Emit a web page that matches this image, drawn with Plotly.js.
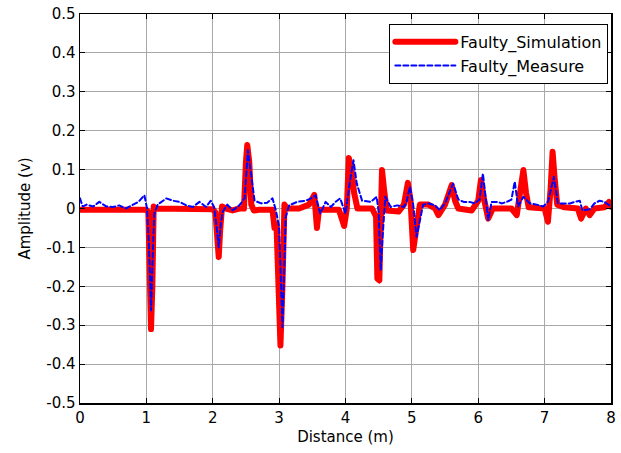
<!DOCTYPE html>
<html>
<head>
<meta charset="utf-8">
<script src="https://cdn.plot.ly/plotly-3.0.1.min.js"></script>
<style>html,body{margin:0;padding:0;background:#fff;}#chart{width:621px;height:453px;}
path.js-line{stroke-linejoin:round !important;stroke-linecap:round;}</style>
</head>
<body>
<div id="chart"></div>
<script>
var simX = [0,0.5,1.0,1.03,1.05,1.07,1.09,1.11,1.14,1.5,2.0,2.04,2.06,2.09,2.11,2.14,2.2,2.3,2.4,2.47,2.5,2.52,2.55,2.58,2.62,2.7,2.9,2.93,2.96,2.99,3.02,3.05,3.08,3.12,3.3,3.45,3.53,3.57,3.6,3.9,3.98,4.02,4.05,4.09,4.13,4.18,4.4,4.46,4.48,4.51,4.53,4.55,4.58,4.62,4.8,4.88,4.94,4.98,5.02,5.06,5.12,5.25,5.35,5.4,5.5,5.6,5.65,5.7,5.9,6.0,6.04,6.08,6.15,6.22,6.5,6.58,6.64,6.68,6.72,6.76,7.0,7.05,7.09,7.12,7.15,7.19,7.3,7.5,7.55,7.62,7.68,7.75,7.9,7.97,8.0];
var simY = [-0.003,-0.003,-0.003,-0.01,-0.2,-0.31,-0.2,0.005,0.0,-0.002,-0.002,-0.01,-0.08,-0.125,-0.06,0.005,0.0,-0.005,0.0,0.0,0.12,0.163,0.12,0.01,-0.005,-0.003,-0.003,-0.05,-0.04,-0.2,-0.352,-0.2,0.01,0.0,0.0,0.01,0.035,-0.05,-0.003,-0.003,-0.045,0.0,0.13,0.1,0.04,0.0,0.0,-0.02,-0.18,-0.185,0.05,0.099,0.05,-0.005,-0.008,0.01,0.066,0.02,-0.107,-0.06,0.01,0.01,0.0,-0.017,0.01,0.06,0.02,0.0,-0.005,0.02,0.073,0.03,-0.026,0.0,0.0,-0.017,0.04,0.099,0.04,0.003,0.0,-0.034,0.05,0.146,0.08,0.01,0.003,0.0,-0.026,0.0,-0.017,0.0,0.003,0.017,0.005];
var measX = [0.0,0.04,0.1,0.2,0.29,0.4,0.5,0.59,0.69,0.79,0.88,0.97,1.01,1.04,1.07,1.1,1.12,1.17,1.3,1.4,1.5,1.6,1.7,1.8,1.9,1.97,2.02,2.06,2.09,2.12,2.15,2.22,2.3,2.4,2.48,2.53,2.58,2.63,2.73,2.82,2.9,2.95,3.0,3.05,3.1,3.15,3.27,3.4,3.48,3.55,3.62,3.7,3.78,3.85,3.92,4.0,4.07,4.12,4.17,4.25,4.38,4.47,4.5,4.53,4.56,4.6,4.68,4.78,4.88,4.92,4.97,5.02,5.07,5.12,5.17,5.25,5.35,5.42,5.5,5.62,5.7,5.78,5.87,5.95,6.02,6.07,6.15,6.2,6.3,6.35,6.43,6.5,6.55,6.6,6.68,6.78,6.88,6.98,7.05,7.14,7.2,7.3,7.38,7.45,7.53,7.57,7.68,7.75,7.83,7.9,8.0];
var measY = [0.026,0.005,0.01,0.005,0.017,0.005,0.004,0.008,0.0,0.01,0.017,0.034,0.0,-0.1,-0.262,-0.1,-0.013,0.01,0.026,0.02,0.017,0.008,0.004,0.017,0.004,0.02,0.004,-0.05,-0.1,-0.04,-0.008,0.01,-0.005,0.008,0.026,0.15,0.08,0.02,0.013,0.015,0.026,-0.004,-0.047,-0.305,-0.022,0.008,0.017,0.02,0.026,0.034,-0.013,0.017,0.004,0.017,0.026,-0.013,0.073,0.124,0.064,0.02,0.017,0.03,-0.01,-0.159,-0.07,0.03,0.004,0.008,0.004,0.017,0.056,0.01,-0.073,-0.03,0.01,0.013,0.008,-0.004,0.013,0.064,0.023,0.017,0.017,0.013,0.023,0.09,-0.03,0.017,0.017,0.013,0.017,0.023,0.069,0.005,0.03,0.013,0.01,0.005,0.017,0.081,0.013,0.013,0.013,0.017,0.02,-0.005,-0.002,0.013,0.02,0.017,0.005];
var xTicks = [0,1,2,3,4,5,6,7,8];
var xTickText = ["0","1","2","3","4","5","6","7","8"];
var yTicks = [0.5,0.4,0.3,0.2,0.1,0,-0.1,-0.2,-0.3,-0.4,-0.5];
var yTickText = ["0.5","0.4","0.3","0.2","0.1","0","-0.1","-0.2","-0.3","-0.4","-0.5"];

var FONT = 'DejaVu Sans, Verdana, sans-serif';
var traces = [
  {x: simX, y: simY, type: 'scatter', mode: 'lines', name: 'Faulty_Simulation',
   line: {color: '#ff0000', width: 6}},
  {x: measX, y: measY, type: 'scatter', mode: 'lines', name: 'Faulty_Measure',
   line: {color: '#0000ff', width: 2, dash: '5px,3px'}}
];
var axisCommon = {
  showline: true, linecolor: '#000', linewidth: 1.5, mirror: 'ticks',
  ticks: 'inside', ticklen: 5, tickcolor: '#000',
  showgrid: true, gridcolor: '#a8a8a8', gridwidth: 1, zeroline: false,
  tickfont: {family: FONT, size: 15, color: '#000'}
};
var layout = {
  width: 621, height: 453,
  margin: {l: 80, r: 10, t: 14, b: 50},
  paper_bgcolor: '#fff', plot_bgcolor: '#fff',
  font: {family: FONT, color: '#000'},
  xaxis: Object.assign({}, axisCommon, {range: [0, 8], tickvals: xTicks, ticktext: xTickText,
    title: {text: 'Distance (m)', font: {size: 15}, standoff: 6}}),
  yaxis: Object.assign({}, axisCommon, {range: [-0.5, 0.5], tickvals: yTicks, ticktext: yTickText,
    title: {text: 'Amplitude (v)', font: {size: 15}, standoff: 12}}),
  showlegend: true,
  legend: {x: 0.995, y: 0.975, xanchor: 'right', yanchor: 'top',
    bgcolor: '#fff', bordercolor: '#000', borderwidth: 1,
    font: {family: FONT, size: 16, color: '#000'},
    itemwidth: 60, tracegroupgap: 0}
};
Plotly.newPlot('chart', traces, layout, {displayModeBar: false, staticPlot: true});
</script>
</body>
</html>
